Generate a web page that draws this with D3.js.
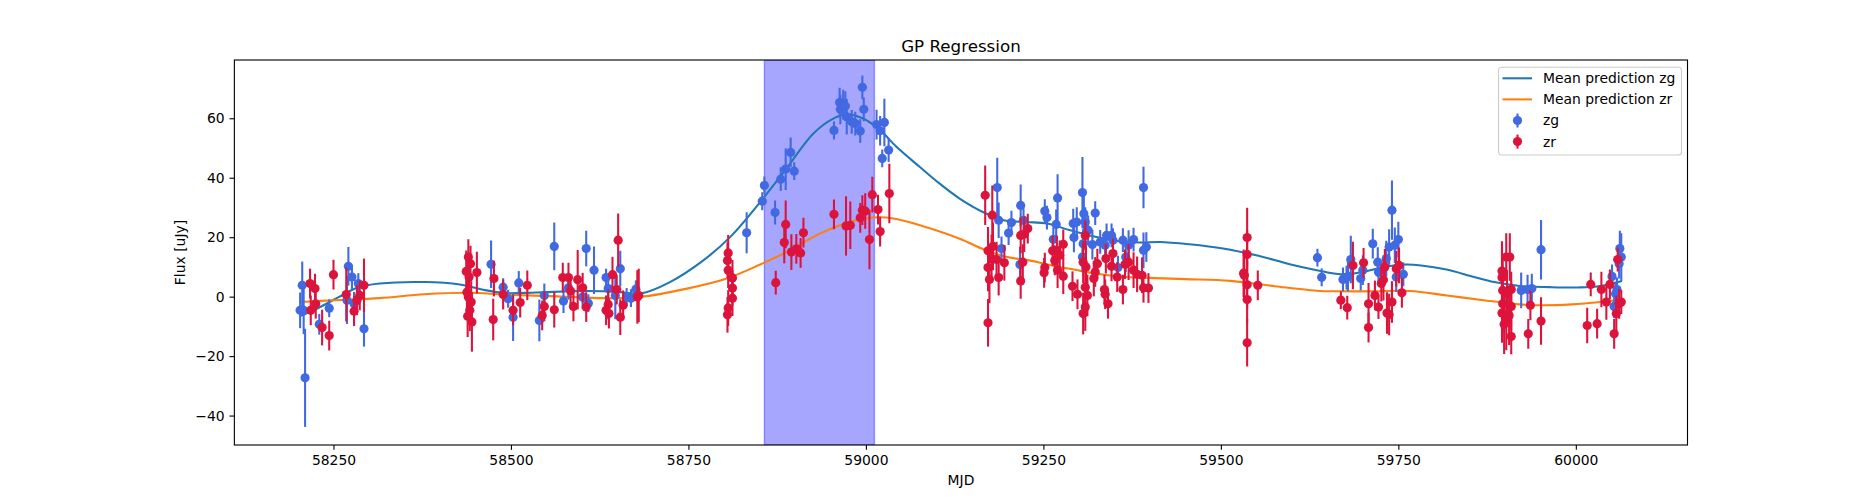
<!DOCTYPE html>
<html>
<head>
<meta charset="utf-8">
<script src="https://cdn.jsdelivr.net/npm/d3@7"></script>
<style>
  body { margin: 0; background: #fff; }
  text { font-family: "DejaVu Sans", sans-serif; }
</style>
</head>
<body>
<div id="chart"></div>
<script>
// observations: [MJD, flux, error]
var zgPoints = [
  [58203, -4.6, 6], [58206, 3.8, 8], [58208, -4.6, 8], [58210, -27.3, 16.5],
  [58230, -9.3, 3.5], [58244, -3.9, 3], [58269, -1.2, 8], [58271, 10.2, 6.5],
  [58276, 6.6, 4], [58279, -2.4, 4], [58285, 4.4, 3.5], [58293, -10.8, 6],
  [58472, 10.9, 8], [58489, 3.2, 3], [58496, -0.7, 3], [58503, -6.9, 8],
  [58511, 4.6, 4], [58540, -8.0, 7], [58547, 0.4, 4], [58561, 16.9, 8],
  [58574, -1.5, 4], [58581, 3.0, 4], [58601, -0.1, 4], [58606, 16.2, 6],
  [58609, -2.2, 3], [58617, 8.9, 8], [58634, 6.4, 3], [58637, 2.7, 4],
  [58647, 0.4, 8], [58654, 9.4, 6], [58663, -0.1, 3], [58669, -0.5, 3],
  [58676, 2.5, 3],
  [58832, 21.5, 6.9], [58854, 32.1, 3], [58857, 37.4, 3], [58872, 28.3, 4],
  [58880, 39.5, 4], [58887, 42.9, 7], [58894, 48.5, 5], [58899, 42.2, 3],
  [58955, 55.9, 3], [58963, 65.3, 5], [58964, 63.0, 5], [58968, 64.6, 5],
  [58971, 64.1, 5], [58973, 60.5, 6], [58980, 58.8, 4], [58985, 58.2, 4],
  [58992, 55.7, 4], [58995, 70.4, 4], [58997, 63.0, 4], [59015, 57.9, 5],
  [59020, 55.8, 5], [59026, 58.6, 8], [59023, 46.5, 3], [59032, 49.3, 4],
  [59185, 36.7, 10], [59187, 25.7, 6], [59191, 16.2, 4], [59201, 21.4, 4],
  [59205, 24.9, 4], [59218, 30.7, 7], [59222, 25.7, 4], [59217, 10.8, 6],
  [59252, 28.8, 4], [59255, 26.6, 4], [59270, 33.2, 8], [59268, 24.3, 5],
  [59264, 19.3, 4], [59292, 24.6, 5], [59293, 19.9, 5], [59305, 35.0, 12],
  [59307, 27.9, 8], [59297, 25.1, 5], [59309, 25.1, 5], [59313, 22.3, 5],
  [59306, 17.8, 5], [59323, 28.1, 4], [59319, 17.5, 5], [59305, 13.3, 5],
  [59330, 18.4, 4], [59339, 20.6, 4], [59346, 20.6, 4], [59337, 17.3, 4],
  [59348, 19.0, 4], [59362, 19.0, 4], [59370, 17.3, 5], [59377, 19.2, 4],
  [59366, 13.3, 5], [59355, 9.8, 4], [59391, 36.7, 7], [59391, 15.6, 6],
  [59395, 16.7, 5],
  [59636, 13.1, 3], [59642, 6.5, 3], [59672, 5.8, 4], [59677, 6.4, 4],
  [59679, 6.8, 5], [59683, 12.5, 8], [59697, 6.1, 4], [59700, 8.9, 5],
  [59714, 17.8, 5], [59721, 11.6, 5], [59722, 8.3, 4], [59733, 12.8, 6],
  [59737, 16.7, 6], [59741, 29.1, 10], [59745, 17.3, 6], [59750, 19.2, 6],
  [59747, 6.6, 5], [59757, 7.5, 4],
  [59923, 2.1, 6], [59932, 2.4, 5], [59938, 2.7, 5], [59951, 15.8, 10],
  [60051, 6.8, 4], [60054, -3.3, 4], [60056, 1.0, 4], [60058, 2.4, 4],
  [60061, 11.1, 5], [60062, 16.2, 6], [60064, 13.3, 8]
];

var zrPoints = [
  [58217, 4.4, 5], [58224, 2.7, 5], [58225, -2.4, 5], [58218, -4.6, 5],
  [58234, -10.4, 6], [58244, -13.1, 5], [58250, 7.4, 5], [58268, 0.7, 9],
  [58279, -4.9, 5], [58283, -1.2, 5], [58287, 0.4, 5], [58293, 3.8, 9],
  [58437, 8.5, 7], [58438, 1.5, 7], [58439, -6.6, 7], [58440, 13.3, 6],
  [58440, -0.1, 7], [58441, 6.6, 7], [58442, -4.6, 7], [58443, 11.1, 6],
  [58444, -1.8, 7], [58445, -8.5, 10], [58452, 8.1, 7], [58476, 6.1, 6],
  [58475, -7.7, 7], [58489, 0.7, 5], [58503, -4.6, 5], [58513, -2.0, 5],
  [58523, 3.8, 5], [58544, -6.3, 5], [58547, -3.3, 5], [58561, -4.4, 6],
  [58573, 6.4, 5], [58581, 6.4, 5], [58584, 1.9, 5], [58588, -3.3, 5],
  [58594, 5.7, 10], [58601, 3.0, 5], [58606, -3.5, 5], [58634, -4.6, 5],
  [58637, -2.6, 5], [58638, -5.7, 5], [58643, 7.4, 6], [58649, 2.4, 5],
  [58651, 19.0, 9], [58654, -6.9, 6], [58658, -2.9, 5], [58678, -0.1, 9],
  [58680, 0.4, 9],
  [58806, 14.7, 6], [58805, 12.2, 6], [58806, 8.9, 6], [58812, 6.3, 6],
  [58812, 2.9, 6], [58812, -0.5, 6], [58806, -3.8, 6], [58805, -6.1, 6],
  [58873, 4.7, 4], [58885, 18.2, 7], [58887, 24.3, 8], [58895, 15.0, 6],
  [58902, 16.1, 5], [58908, 14.7, 5], [58912, 21.5, 5], [58955, 27.7, 5],
  [58972, 23.8, 10], [58978, 24.0, 8], [58992, 26.5, 5], [58995, 29.1, 5],
  [58999, 28.8, 6], [59005, 19.2, 10], [59009, 34.3, 6], [59017, 29.3, 5],
  [59020, 21.9, 5], [59033, 34.7, 10],
  [59168, 34.1, 10], [59178, 27.4, 10], [59172, 15.4, 8], [59179, 16.9, 8],
  [59177, 12.8, 8], [59184, 12.5, 6], [59172, 9.8, 8], [59174, 5.8, 8],
  [59187, 6.4, 6], [59195, 11.4, 6], [59172, -8.8, 8], [59218, 20.6, 6],
  [59223, 21.0, 6], [59228, 22.9, 5], [59221, 11.6, 6], [59218, 5.3, 6],
  [59252, 9.8, 5], [59251, 8.0, 5], [59263, 15.4, 5], [59269, 15.6, 5],
  [59278, 17.6, 5], [59266, 12.2, 5], [59273, 13.9, 5], [59270, 8.9, 6],
  [59278, 6.9, 6], [59291, 3.5, 5], [59298, 0.8, 5], [59309, 20.6, 5],
  [59306, 11.6, 7], [59310, 10.0, 7], [59309, 3.2, 7], [59312, 0.4, 7],
  [59309, -3.5, 8], [59306, -5.7, 7], [59323, 8.3, 5], [59326, 11.1, 5],
  [59321, 6.1, 6], [59336, 2.4, 5], [59337, 0.8, 5], [59341, -2.4, 5],
  [59338, 12.8, 5], [59348, 14.5, 5], [59346, 10.2, 5], [59354, 6.6, 5],
  [59362, 2.4, 5], [59365, 10.9, 5], [59370, 11.6, 6], [59377, 8.9, 6],
  [59382, 7.5, 6], [59389, 7.2, 6], [59391, 3.0, 5], [59398, 2.9, 5],
  [59537, 19.9, 10], [59537, 14.2, 8], [59532, 7.9, 8], [59533, 7.2, 8],
  [59537, 4.0, 8], [59537, -1.0, 8], [59537, -15.5, 8], [59552, 3.8, 5],
  [59669, -1.2, 3], [59678, -3.7, 4], [59686, 10.5, 8], [59701, 11.4, 5],
  [59708, -2.4, 7], [59708, -10.4, 5], [59717, 0.4, 5], [59722, -3.5, 4],
  [59726, 4.4, 6], [59729, 5.7, 7], [59731, 10.0, 6], [59734, -5.5, 7],
  [59737, -6.0, 7], [59741, -1.8, 7], [59747, 9.4, 6], [59751, 10.5, 6],
  [59755, 1.3, 5],
  [59896, 8.6, 10], [59896, 6.4, 10], [59897, 2.1, 10], [59897, -2.4, 10],
  [59896, -5.5, 10], [59899, -9.3, 10], [59902, 13.3, 8], [59907, 13.3, 8],
  [59903, 1.0, 8], [59906, -6.3, 10], [59909, 2.4, 6], [59909, -3.3, 8],
  [59909, -13.4, 6], [59902, -8.0, 10], [59936, -2.9, 5], [59933, -12.5, 5],
  [59951, -8.2, 8], [60016, -9.7, 6], [60021, 4.1, 4], [60030, -9.1, 5],
  [60036, 2.4, 6], [60043, -1.8, 6], [60048, 4.1, 5], [60054, -12.5, 5],
  [60057, -5.7, 6], [60059, 12.5, 4], [60061, -2.4, 5], [60064, -1.8, 4]
];

// GP mean predictions: [MJD, flux]
var zgMean = [
  [58203, -6.5], [58222, -4.6], [58258, -0.1], [58283, 3.0], [58315, 4.4],
  [58378, 4.9], [58428, 4.1], [58459, 2.4], [58491, 1.2], [58535, 1.4],
  [58598, 1.9], [58648, 1.7], [58682, 1.0], [58724, 4.9], [58771, 12.2],
  [58809, 20.1], [58851, 31.8], [58888, 43.1], [58926, 54.9], [58954, 59.9],
  [58973, 61.3], [58996, 59.9], [59020, 56.0], [59043, 50.4], [59076, 43.6],
  [59104, 38.0], [59132, 33.0], [59167, 28.2], [59194, 25.7], [59226, 25.1],
  [59255, 24.6], [59288, 22.3], [59320, 20.3], [59353, 18.7], [59386, 18.2],
  [59414, 18.4], [59456, 17.6], [59503, 16.2], [59550, 13.9], [59597, 10.9],
  [59635, 8.9], [59670, 7.5], [59700, 8.3], [59730, 10.0], [59761, 10.8],
  [59782, 10.5], [59818, 9.1], [59854, 6.8], [59885, 4.9], [59921, 3.6],
  [59963, 3.2], [60004, 3.1], [60035, 3.6], [60065, 5.3]
];

var zrMean = [
  [58203, -1.8], [58252, -1.2], [58315, -0.5], [58378, 0.8], [58441, 1.3],
  [58491, 0.7], [58566, 0.1], [58629, -0.5], [58682, -0.1], [58748, 2.7],
  [58804, 6.1], [58851, 10.8], [58888, 15.0], [58935, 21.2], [58973, 24.8],
  [59010, 26.6], [59039, 26.3], [59076, 24.0], [59132, 19.5], [59167, 15.8],
  [59199, 13.3], [59230, 12.2], [59262, 10.5], [59293, 9.1], [59325, 7.7],
  [59356, 6.8], [59388, 6.4], [59450, 5.9], [59513, 5.3], [59576, 3.5],
  [59639, 1.9], [59663, 1.8], [59715, 1.8], [59766, 1.9], [59818, 0.4],
  [59870, -1.2], [59921, -2.6], [59952, -2.9], [59994, -2.6], [60035, -1.8],
  [60064, -1.0]
];

var spanRange = [58857, 59012];
var xTicks = [58250, 58500, 58750, 59000, 59250, 59500, 59750, 60000];
var yTicks = [-40, -20, 0, 20, 40, 60];

var svgWidth = 1875;
var svgHeight = 500;
var margin = { top: 60, right: 187.5, bottom: 55, left: 234.375 };
var width = svgWidth - margin.left - margin.right;
var height = svgHeight - margin.top - margin.bottom;

var svg = d3.select("#chart")
  .append("svg")
  .attr("width", svgWidth)
  .attr("height", svgHeight);

var chartGroup = svg.append("g")
  .attr("transform", `translate(${margin.left}, ${margin.top})`);

var x = d3.scaleLinear().domain([58110.4, 60157.3]).range([0, width]);
var y = d3.scaleLinear().domain([-49.9, 79.6]).range([height, 0]);

svg.append("defs").append("clipPath").attr("id", "clip")
  .append("rect").attr("width", width).attr("height", height);

var plot = chartGroup.append("g").attr("clip-path", "url(#clip)");

// shaded span
plot.append("rect")
  .attr("x", x(spanRange[0]))
  .attr("y", 0)
  .attr("width", x(spanRange[1]) - x(spanRange[0]))
  .attr("height", height)
  .style("fill", "blue")
  .style("fill-opacity", 0.35)
  .style("stroke", "blue")
  .style("stroke-opacity", 0.35)
  .style("stroke-width", 1.4);

var line = d3.line()
  .x(d => x(d[0]))
  .y(d => y(d[1]))
  .curve(d3.curveCatmullRom.alpha(0.5));

plot.append("path").datum(zgMean)
  .attr("d", line)
  .style("fill", "none")
  .style("stroke", "#1f77b4")
  .style("stroke-width", 2.08);

plot.append("path").datum(zrMean)
  .attr("d", line)
  .style("fill", "none")
  .style("stroke", "#ff7f0e")
  .style("stroke-width", 2.08);

function drawErrorbars(data, color) {
  var g = plot.append("g");
  g.selectAll("line")
    .data(data)
    .enter()
    .append("line")
    .attr("x1", d => x(d[0]))
    .attr("x2", d => x(d[0]))
    .attr("y1", d => y(d[1] - d[2]))
    .attr("y2", d => y(d[1] + d[2]))
    .style("stroke", color)
    .style("stroke-width", 2.08);
  g.selectAll("circle")
    .data(data)
    .enter()
    .append("circle")
    .attr("cx", d => x(d[0]))
    .attr("cy", d => y(d[1]))
    .attr("r", 4.6)
    .style("fill", color);
}

drawErrorbars(zgPoints, "royalblue");
drawErrorbars(zrPoints, "crimson");

// axes
var xAxis = chartGroup.append("g")
  .attr("transform", "translate(0," + height + ")")
  .call(d3.axisBottom(x).tickValues(xTicks).tickSize(4.86).tickPadding(4.86).tickFormat(d3.format("d")));
var yAxis = chartGroup.append("g")
  .call(d3.axisLeft(y).tickValues(yTicks).tickSize(4.86).tickPadding(4.86));

[xAxis, yAxis].forEach(function (a) {
  a.select(".domain").remove();
  a.selectAll("line").style("stroke", "#000").style("stroke-width", 1.11);
  a.selectAll("text").style("font-size", "13.9px").style("fill", "#000")
    .style("font-family", "DejaVu Sans");
});

chartGroup.append("rect")
  .attr("width", width)
  .attr("height", height)
  .style("fill", "none")
  .style("stroke", "#000")
  .style("stroke-width", 1.11);

// labels
chartGroup.append("text")
  .attr("x", width / 2)
  .attr("y", -8)
  .attr("text-anchor", "middle")
  .style("font-size", "16.7px")
  .text("GP Regression");

chartGroup.append("text")
  .attr("x", width / 2)
  .attr("y", height + 40)
  .attr("text-anchor", "middle")
  .style("font-size", "13.9px")
  .text("MJD");

chartGroup.append("text")
  .attr("transform", `translate(-49, ${height / 2}) rotate(-90)`)
  .attr("text-anchor", "middle")
  .style("font-size", "13.9px")
  .text("Flux [uJy]");

// legend
var legend = chartGroup.append("g")
  .attr("transform", `translate(${width - 189}, 7.3)`);

legend.append("rect")
  .attr("width", 183)
  .attr("height", 87.7)
  .attr("rx", 3).attr("ry", 3)
  .style("fill", "#fff")
  .style("fill-opacity", 0.8)
  .style("stroke", "#cccccc")
  .style("stroke-width", 1.11);

var legendItems = [
  { label: "Mean prediction zg", color: "#1f77b4", kind: "line" },
  { label: "Mean prediction zr", color: "#ff7f0e", kind: "line" },
  { label: "zg", color: "royalblue", kind: "point" },
  { label: "zr", color: "crimson", kind: "point" }
];

legendItems.forEach(function (item, i) {
  var cy = 11 + i * 21.1;
  if (item.kind === "line") {
    legend.append("line")
      .attr("x1", 4).attr("x2", 33.5)
      .attr("y1", cy).attr("y2", cy)
      .style("stroke", item.color)
      .style("stroke-width", 2.08);
  } else {
    legend.append("line")
      .attr("x1", 19).attr("x2", 19)
      .attr("y1", cy - 7).attr("y2", cy + 7)
      .style("stroke", item.color)
      .style("stroke-width", 2.08);
    legend.append("circle")
      .attr("cx", 19).attr("cy", cy)
      .attr("r", 4.6)
      .style("fill", item.color);
  }
  legend.append("text")
    .attr("x", 44.4)
    .attr("y", cy + 5)
    .style("font-size", "13.9px")
    .text(item.label);
});
</script>
</body>
</html>
